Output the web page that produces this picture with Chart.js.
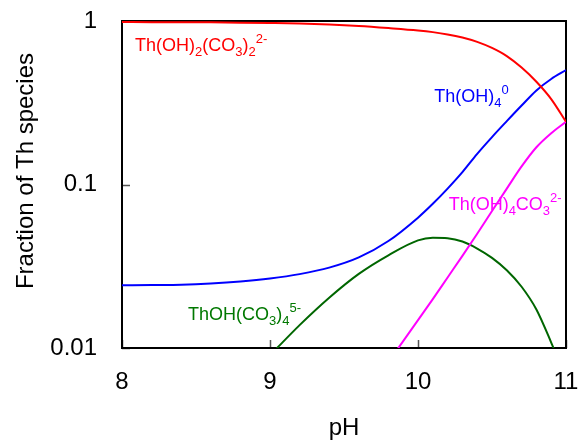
<!DOCTYPE html>
<html>
<head>
<meta charset="utf-8">
<script src="https://cdn.jsdelivr.net/npm/chart.js@4/dist/chart.umd.min.js"></script>
<style>
  html, body { margin: 0; padding: 0; background: #fff; }
  #wrap { width: 579px; height: 443px; }
</style>
</head>
<body>
<div id="wrap"><canvas id="chart-species" width="579" height="443"></canvas></div>
<script>
const pH = [8.0, 8.2, 8.4, 8.6, 8.8, 9.0, 9.2, 9.4, 9.6, 9.8, 10.0, 10.1, 10.2, 10.3, 10.4, 10.5, 10.6, 10.7, 10.8, 10.9, 11.0];
const dicarbonato = [0.985, 0.984, 0.983, 0.981, 0.977, 0.972, 0.965, 0.952, 0.932, 0.905, 0.875, 0.855, 0.828, 0.792, 0.745, 0.684, 0.61, 0.519, 0.425, 0.333, 0.242];
const hydroxide = [0.0242, 0.0243, 0.0244, 0.0248, 0.0255, 0.0266, 0.0283, 0.031, 0.0358, 0.0451, 0.0627, 0.0762, 0.0944, 0.119, 0.154, 0.195, 0.244, 0.304, 0.376, 0.442, 0.501];
const hydroxoCarbonate = [null, null, null, null, null, null, null, null, null, 0.0082, 0.0148, 0.0199, 0.027, 0.0366, 0.05, 0.0688, 0.0944, 0.129, 0.169, 0.206, 0.242];
const tetracarbonato = [null, null, null, null, null, 0.00902, 0.0138, 0.0203, 0.0284, 0.0369, 0.0455, 0.0472, 0.0469, 0.0448, 0.0406, 0.0356, 0.0299, 0.0237, 0.0172, 0.0108, 0.0065];

const xTicks = [8, 9, 10, 11];
const yTicks = [0.01, 0.1, 1];
const yTickLabels = ["0.01", "0.1", "1"];
const yTitle = "Fraction of Th species";

const fontFamily = "'Liberation Sans', Arial, sans-serif";

const toPoints = (vals) => pH.map((x, i) => ({ x: x, y: vals[i] }));

// labels: [text, kind] pieces (n normal, b subscript, p superscript), anchored in data coords
const speciesLabels = [
  { color: "#ff0000", x: 8.088, y: 0.655, parts: [["Th(OH)", "n"], ["2", "b"], ["(CO", "n"], ["3", "b"], [")", "n"], ["2", "b"], ["2-", "p"]] },
  { color: "#0000ff", x: 10.11, y: 0.318, parts: [["Th(OH)", "n"], ["4", "b"], ["0", "p"]] },
  { color: "#ff00ff", x: 10.207, y: 0.0703, parts: [["Th(OH)", "n"], ["4", "b"], ["CO", "n"], ["3", "b"], ["2-", "p"]] },
  { color: "#007800", x: 8.446, y: 0.01486, parts: [["ThOH(CO", "n"], ["3", "b"], [")", "n"], ["4", "b"], ["5-", "p"]] },
];

const framePlugin = {
  id: "frame",
  beforeDatasetsDraw(chart) {
    const { ctx, chartArea: a, scales } = chart;
    ctx.save();
    ctx.strokeStyle = "#555";
    ctx.lineWidth = 1.5;
    ctx.beginPath();
    xTicks.forEach((v) => {
      const px = Math.round(scales.x.getPixelForValue(v)) + 0.5;
      ctx.moveTo(px, a.bottom);
      ctx.lineTo(px, a.bottom - 8);
    });
    yTicks.forEach((v) => {
      const py = Math.round(scales.y.getPixelForValue(v)) + 0.5;
      ctx.moveTo(a.left, py);
      ctx.lineTo(a.left + 8, py);
    });
    ctx.stroke();
    ctx.strokeStyle = "#000";
    ctx.lineWidth = 2;
    ctx.strokeRect(a.left, a.top, a.right - a.left, a.bottom - a.top);

    // y axis title, a little above the middle like the original
    ctx.translate(26, 171);
    ctx.rotate(-Math.PI / 2);
    ctx.fillStyle = "#000";
    ctx.font = "24px " + fontFamily;
    ctx.textAlign = "center";
    ctx.textBaseline = "middle";
    ctx.fillText(yTitle, 0, 0);
    ctx.restore();
  },
  afterDatasetsDraw(chart) {
    const { ctx, scales } = chart;
    ctx.save();
    ctx.textBaseline = "alphabetic";
    ctx.textAlign = "left";
    speciesLabels.forEach((lab) => {
      let px = scales.x.getPixelForValue(lab.x);
      const py = scales.y.getPixelForValue(lab.y);
      ctx.fillStyle = lab.color;
      lab.parts.forEach(([txt, kind]) => {
        let dy = 0;
        if (kind === "n") {
          ctx.font = "18px " + fontFamily;
        } else {
          ctx.font = "13px " + fontFamily;
          dy = kind === "b" ? 5 : -8;
        }
        ctx.fillText(txt, px, py + dy);
        px += ctx.measureText(txt).width;
      });
    });
    ctx.restore();
  },
};

const lineSet = (label, vals, color) => ({
  label: label,
  data: toPoints(vals),
  borderColor: color,
  backgroundColor: color,
  borderWidth: 2,
  pointRadius: 0,
  cubicInterpolationMode: "monotone",
  fill: false,
  clip: { left: 0, top: 4, right: 0, bottom: 0 },
});

new Chart(document.querySelector("#chart-species"), {
  type: "line",
  data: {
    datasets: [
      lineSet("Th(OH)2(CO3)2 2-", dicarbonato, "#ff0000"),
      lineSet("Th(OH)4 0", hydroxide, "#0000ff"),
      lineSet("Th(OH)4CO3 2-", hydroxoCarbonate, "#ff00ff"),
      lineSet("ThOH(CO3)4 5-", tetracarbonato, "#006600"),
    ],
  },
  options: {
    responsive: false,
    animation: false,
    layout: { padding: { left: 0, right: 13, top: 21, bottom: 0 } },
    plugins: {
      legend: { display: false },
      tooltip: { enabled: false },
    },
    scales: {
      x: {
        type: "linear",
        min: 8,
        max: 11,
        afterBuildTicks: (scale) => { scale.ticks = xTicks.map((v) => ({ value: v })); },
        afterFit: (scale) => {
          scale.height = 95;
          scale.paddingLeft = 0;
          scale.paddingRight = 0;
        },
        grid: { display: false, drawTicks: false },
        border: { display: false },
        ticks: {
          color: "#000",
          padding: 20,
          font: { family: fontFamily, size: 24 },
          callback: (v) => String(v),
        },
        title: {
          display: true,
          text: "pH",
          color: "#000",
          padding: { top: 24, bottom: 0 },
          font: { family: fontFamily, size: 24 },
        },
      },
      y: {
        type: "logarithmic",
        min: 0.01,
        max: 1,
        afterBuildTicks: (scale) => { scale.ticks = yTicks.map((v) => ({ value: v })); },
        afterFit: (scale) => {
          scale.width = 122;
          scale.paddingTop = 0;
          scale.paddingBottom = 0;
        },
        grid: { display: false, drawTicks: false },
        border: { display: false },
        ticks: {
          color: "#000",
          padding: 25,
          font: { family: fontFamily, size: 24 },
          callback: (v) => yTickLabels[yTicks.indexOf(v)] ?? "",
        },
      },
    },
  },
  plugins: [framePlugin],
});
</script>
</body>
</html>
